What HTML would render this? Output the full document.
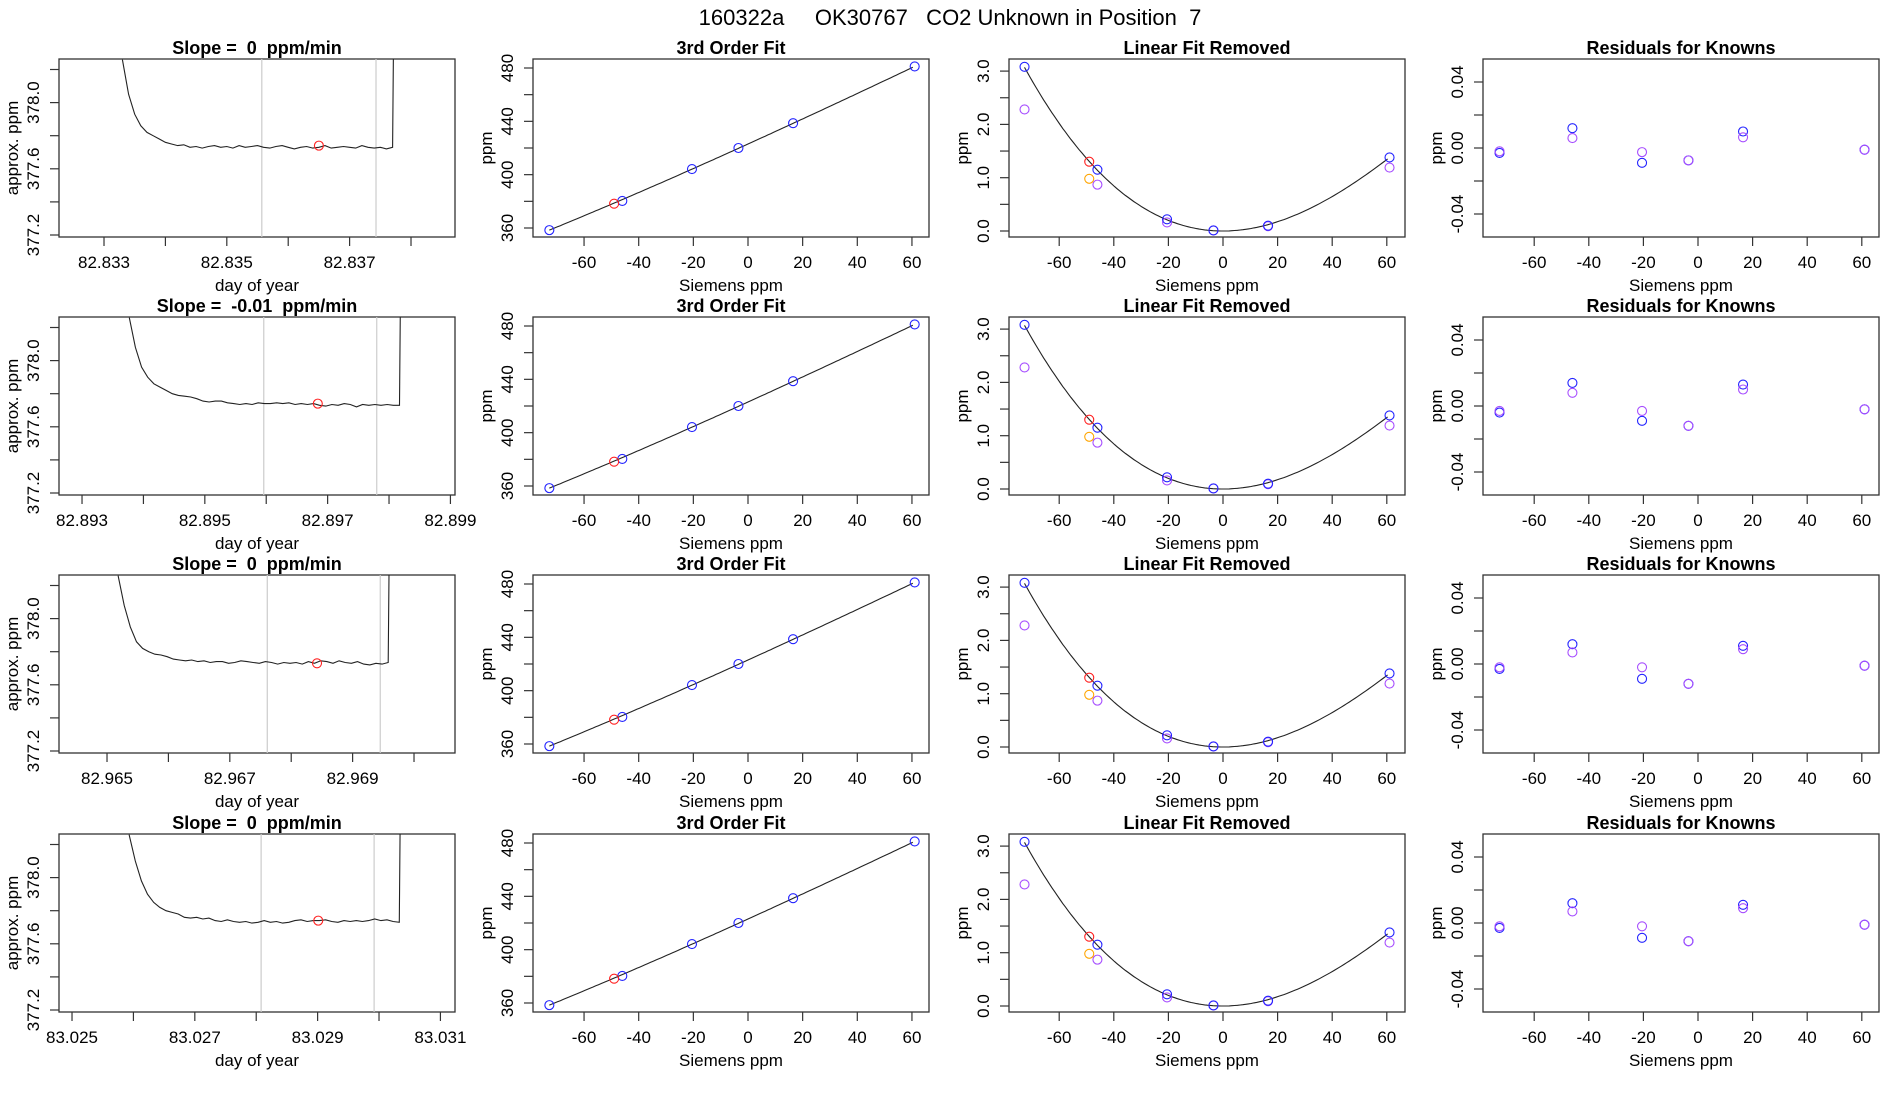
<!DOCTYPE html>
<html><head><meta charset="utf-8">
<style>
html,body{margin:0;padding:0;background:#fff;}
svg{display:block;font-family:"Liberation Sans",sans-serif;}
svg text{white-space:pre;}
</style></head>
<body>
<svg id="fig" width="1900" height="1100" viewBox="0 0 1900 1100" xmlns="http://www.w3.org/2000/svg">
<text x="950" y="25" text-anchor="middle" font-size="22" xml:space="preserve">160322a     OK30767   CO2 Unknown in Position  7</text>
</svg>
<script>
// ---------- data ----------
const slopeTitles = ["Slope =  0  ppm/min","Slope =  -0.01  ppm/min","Slope =  0  ppm/min","Slope =  0  ppm/min"];
const dayAxisMin = [82.832267, 82.892625, 82.964218, 83.024788];
const dayTicks = [
  [82.833,82.834,82.835,82.836,82.837,82.838],
  [82.893,82.894,82.895,82.896,82.897,82.898,82.899],
  [82.965,82.966,82.967,82.968,82.969,82.970],
  [83.025,83.026,83.027,83.028,83.029,83.030,83.031]
];
const dayTickLabels = [
  ["82.833","","82.835","","82.837",""],
  ["82.893","","82.895","","82.897","","82.899"],
  ["82.965","","82.967","","82.969",""],
  ["83.025","","83.027","","83.029","","83.031"]
];
const seriesStart = [82.83330, 82.89377, 82.96518, 83.02593];
const seriesStep = 0.0001;
const seriesRow1 = [378.26,378.05,377.93,377.86,377.82,377.80,377.78,377.76,377.75,377.74,377.745,377.73,377.735,377.725,377.735,377.74,377.73,377.735,377.725,377.74,377.73,377.735,377.74,377.73,377.725,377.735,377.74,377.73,377.72,377.73,377.735,377.725,377.73,377.74,377.725,377.73,377.735,377.73,377.725,377.74,377.73,377.725,377.73,377.72,377.73];
const seriesRow2 = [378.26,378.08,377.96,377.90,377.86,377.84,377.82,377.80,377.79,377.785,377.78,377.77,377.755,377.75,377.755,377.755,377.745,377.74,377.735,377.74,377.735,377.745,377.74,377.74,377.745,377.74,377.745,377.735,377.74,377.735,377.74,377.73,377.725,377.735,377.73,377.74,377.735,377.72,377.735,377.73,377.735,377.73,377.735,377.73,377.73];
const seriesRow3 = [378.26,378.08,377.95,377.86,377.82,377.80,377.785,377.78,377.77,377.755,377.75,377.745,377.75,377.74,377.745,377.735,377.74,377.74,377.73,377.735,377.745,377.74,377.735,377.73,377.74,377.735,377.725,377.735,377.73,377.735,377.725,377.74,377.73,377.745,377.74,377.73,377.745,377.735,377.73,377.74,377.725,377.72,377.73,377.725,377.735];
const seriesRow4 = [378.26,378.10,377.98,377.90,377.85,377.82,377.80,377.79,377.78,377.76,377.755,377.76,377.75,377.755,377.74,377.735,377.745,377.735,377.73,377.735,377.725,377.73,377.74,377.73,377.735,377.725,377.73,377.74,377.745,377.735,377.74,377.74,377.745,377.735,377.73,377.74,377.735,377.74,377.735,377.74,377.75,377.74,377.745,377.735,377.73];
const seriesRows = [seriesRow1, seriesRow2, seriesRow3, seriesRow4];
const jumpValue = 379.0;
const grayLines = [[82.83557,82.83743],[82.89596,82.89780],[82.96761,82.96945],[83.02808,83.02992]];
const unknownDay = [82.8365, 82.89684, 82.96842, 83.02901];
const unknownPpm = [377.74, 377.74, 377.73, 377.74];
const ppmTicks = [377.2,377.4,377.6,377.8,378.0,378.2];
const ppmTickLabels = ["377.2","","377.6","","378.0",""];

const siemensKnown = [-72.7,-46,-20.5,-3.5,16.5,61];
const siemensUnknown = -49;
const fitPpmKnown = [358.4,380.3,404.2,420.0,438.6,481.2];
const fitPpmUnknown = 378.2;
const linearCoef = [423.0, 0.931];
const curveCoef = [0.0004667, -0.000001571];
const removedBlue = [3.08,1.15,0.22,0.01,0.10,1.38];
const removedPurple = [2.28,0.87,0.16,0.01,0.09,1.19];
const removedRed = 1.30;
const removedOrange = 0.98;
const residBlue = [
  [-0.003,0.012,-0.009,-0.0075,0.010,-0.001],
  [-0.004,0.014,-0.009,-0.012,0.013,-0.002],
  [-0.003,0.012,-0.009,-0.012,0.011,-0.001],
  [-0.003,0.012,-0.009,-0.011,0.011,-0.001]
];
const residPurple = [
  [-0.002,0.006,-0.0025,-0.0075,0.0065,-0.001],
  [-0.003,0.008,-0.003,-0.012,0.010,-0.002],
  [-0.002,0.007,-0.002,-0.012,0.009,-0.001],
  [-0.002,0.007,-0.002,-0.011,0.009,-0.001]
];
const siemensTicks = [-60,-40,-20,0,20,40,60];
const fitTicks = [360,380,400,420,440,460,480];
const fitTickLabels = ["360","","400","","440","","480"];
const remTicks = [0,0.5,1,1.5,2,2.5,3];
const remTickLabels = ["0.0","","1.0","","2.0","","3.0"];
const resTicks = [-0.04,-0.02,0,0.02,0.04];
const resTickLabels = ["-0.04","","0.00","","0.04"];

// ---------- layout ----------
const NS = "http://www.w3.org/2000/svg";
const svg = document.getElementById("fig");
const rowTops = [59,317,575,834];
const panelLefts = [59,533,1009,1483];
const PW = 396, PH = 178;
const BLUE="#2222ff", PURPLE="#a64dff", RED="#ff2020", ORANGE="#ffa500";

function mk(tag, attrs, parent){
  const e = document.createElementNS(NS, tag);
  for (const k in attrs) e.setAttribute(k, attrs[k]);
  (parent||svg).appendChild(e);
  return e;
}
function txt(parent, x, y, s, size, extra){
  const t = mk("text", Object.assign({x:x, y:y, "font-size":size, "text-anchor":"middle"}, extra||{}), parent);
  t.textContent = s;
  return t;
}

function panelFrame(g, L, T, title, xTitle, yTitle, xt, xtl, xs, yt, ytl, ys, clipId){
  const B = T + PH;
  const tt = txt(g, L+PW/2, T-5, title, 18, {"font-weight":"bold"});
  
  
  const box = mk("rect",{x:L,y:T,width:PW,height:PH,fill:"none",stroke:"#333","stroke-width":1.3},g);
  
  
  const xa = mk("g",{},g);
  
  
  xt.forEach((v,i)=>{
    const x = xs(v);
    mk("line",{x1:x,x2:x,y1:B,y2:B+9,stroke:"#333","stroke-width":1.2},xa);
    if (xtl[i]!=="") txt(xa, x, B+31, xtl[i], 17);
  });
  const xl = txt(g, L+PW/2, B+54, xTitle, 17);
  
  
  const ya = mk("g",{},g);
  
  
  yt.forEach((v,i)=>{
    const y = ys(v);
    mk("line",{x1:L-9,x2:L,y1:y,y2:y,stroke:"#333","stroke-width":1.2},ya);
    if (ytl[i]!=="") txt(ya, L-20, y, ytl[i], 17, {transform:`rotate(-90 ${L-20} ${y})`});
  });
  const yl = txt(g, L-41, T+PH/2, yTitle, 17, {transform:`rotate(-90 ${L-41} ${T+PH/2})`});
  
  
  const cp = mk("clipPath",{id:clipId},g);
  mk("rect",{x:L,y:T,width:PW,height:PH},cp);
}
function circle(g, x, y, color, name){
  const c = mk("circle",{cx:x,cy:y,r:4.5,fill:"none",stroke:color,"stroke-width":1.1},g);
  
  
}

for (let r=0;r<4;r++){
  const T = rowTops[r], B = T+PH;
  const row = mk("g",{});
  
  

  // ---- panel 1: time series ----
  {
    const L = panelLefts[0];
    const g = mk("g",{},row);
    
    
    const xs = d => L + (d - dayAxisMin[r]) * 61400;
    const ys = v => B - 2 - (v - 377.2) * 165.5;
    panelFrame(g, L, T, slopeTitles[r], "day of year", "approx. ppm", dayTicks[r], dayTickLabels[r], xs, ppmTicks, ppmTickLabels, ys, "c1_"+r);
    grayLines[r].forEach(d=>{
      const l = mk("line",{x1:xs(d),x2:xs(d),y1:T,y2:B,stroke:"#cccccc","stroke-width":1.2},g);
      
      
    });
    const vals = seriesRows[r];
    let pts = vals.map((v,i)=>xs(seriesStart[r]+i*seriesStep).toFixed(1)+","+ys(v).toFixed(1));
    const lastT = seriesStart[r]+(vals.length-1)*seriesStep;
    pts.push(xs(lastT+0.00003).toFixed(1)+","+ys(jumpValue).toFixed(1));
    const pl = mk("polyline",{points:pts.join(" "),fill:"none",stroke:"#222","stroke-width":1.1,"clip-path":`url(#c1_${r})`},g);
    
    
    circle(g, xs(unknownDay[r]), ys(unknownPpm[r]), RED, 'unknown-mean-point');
  }

  // ---- panel 2: 3rd order fit ----
  {
    const L = panelLefts[1];
    const g = mk("g",{},row);
    
    
    const xs = v => L + 215 + v*2.7325;
    const ys = v => T + 9 + (480 - v)*1.3333;
    panelFrame(g, L, T, "3rd Order Fit", "Siemens ppm", "ppm", siemensTicks, siemensTicks.map(String), xs, fitTicks, fitTickLabels, ys, "c2_"+r);
    const pts=[];
    for (let x=siemensKnown[0]; x<=siemensKnown[5]+0.01; x+=1.0){
      const y = linearCoef[0]+linearCoef[1]*x+curveCoef[0]*x*x+curveCoef[1]*x*x*x;
      pts.push(xs(x).toFixed(1)+","+ys(y).toFixed(1));
    }
    const fl = mk("polyline",{points:pts.join(" "),fill:"none",stroke:"#222","stroke-width":1.1},g);
    
    
    siemensKnown.forEach((x,i)=>circle(g, xs(x), ys(fitPpmKnown[i]), BLUE, 'known-point'));
    circle(g, xs(siemensUnknown), ys(fitPpmUnknown), RED, 'unknown-point');
  }

  // ---- panel 3: linear fit removed ----
  {
    const L = panelLefts[2];
    const g = mk("g",{},row);
    
    
    const xs = v => L + 214 + v*2.73;
    const ys = v => B - 6 - v*53.3;
    panelFrame(g, L, T, "Linear Fit Removed", "Siemens ppm", "ppm", siemensTicks, siemensTicks.map(String), xs, remTicks, remTickLabels, ys, "c3_"+r);
    const pts=[];
    for (let x=siemensKnown[0]; x<=siemensKnown[5]+0.01; x+=1.0){
      const y = curveCoef[0]*x*x+curveCoef[1]*x*x*x;
      pts.push(xs(x).toFixed(1)+","+ys(y).toFixed(1));
    }
    const cl = mk("polyline",{points:pts.join(" "),fill:"none",stroke:"#222","stroke-width":1.1},g);
    
    
    siemensKnown.forEach((x,i)=>circle(g, xs(x), ys(removedPurple[i]), PURPLE, 'known-point-purple'));
    siemensKnown.forEach((x,i)=>circle(g, xs(x), ys(removedBlue[i]), BLUE, 'known-point-blue'));
    circle(g, xs(siemensUnknown), ys(removedOrange), ORANGE, 'unknown-point-orange');
    circle(g, xs(siemensUnknown), ys(removedRed), RED, 'unknown-point-red');
  }

  // ---- panel 4: residuals for knowns ----
  {
    const L = panelLefts[3];
    const g = mk("g",{},row);
    
    
    const xs = v => L + 215 + v*2.73;
    const ys = v => T + 89 - v*1650;
    panelFrame(g, L, T, "Residuals for Knowns", "Siemens ppm", "ppm", siemensTicks, siemensTicks.map(String), xs, resTicks, resTickLabels, ys, "c4_"+r);
    siemensKnown.forEach((x,i)=>circle(g, xs(x), ys(residBlue[r][i]), BLUE, 'residual-point-blue'));
    siemensKnown.forEach((x,i)=>circle(g, xs(x), ys(residPurple[r][i]), PURPLE, 'residual-point-purple'));
  }
}
</script>
</body></html>
